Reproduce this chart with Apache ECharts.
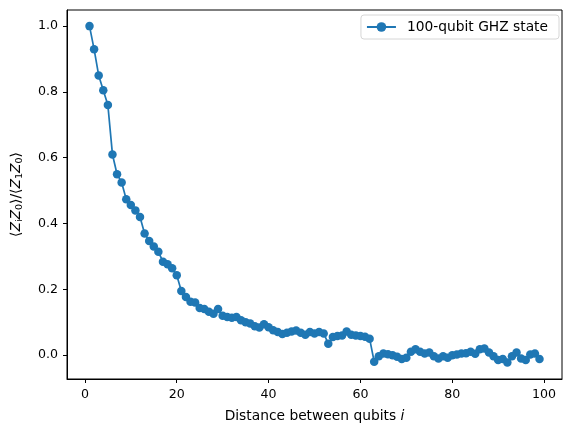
<!DOCTYPE html>
<html>
<head>
<meta charset="utf-8">
<script src="https://cdn.jsdelivr.net/npm/echarts@6/dist/echarts.min.js"></script>
<style>
html,body{margin:0;padding:0;background:#fff;}
#chart{width:570px;height:436px;}
</style>
</head>
<body>
<div id="chart"></div>
<script>
const distances = [1,2,3,4,5,6,7,8,9,10,11,12,13,14,15,16,17,18,19,20,
21,22,23,24,25,26,27,28,29,30,31,32,33,34,35,36,37,38,39,40,
41,42,43,44,45,46,47,48,49,50,51,52,53,54,55,56,57,58,59,60,
61,62,63,64,65,66,67,68,69,70,71,72,73,74,75,76,77,78,79,80,
81,82,83,84,85,86,87,88,89,90,91,92,93,94,95,96,97,98,99];
const correlations = [1.0,0.93,0.85,0.805,0.76,0.61,0.55,0.525,0.474,0.456,
0.44,0.42,0.37,0.347,0.33,0.314,0.284,0.276,0.264,0.243,
0.195,0.177,0.162,0.16,0.143,0.14,0.132,0.126,0.14,0.12,
0.116,0.114,0.116,0.106,0.1,0.096,0.088,0.084,0.094,0.085,
0.076,0.07,0.064,0.068,0.072,0.075,0.068,0.062,0.07,0.066,
0.07,0.066,0.035,0.055,0.058,0.06,0.072,0.062,0.06,0.058,
0.056,0.05,-0.02,-0.003,0.005,0.003,0.0,-0.005,-0.012,-0.008,
0.01,0.018,0.01,0.005,0.008,-0.003,-0.01,-0.003,-0.008,0.0,
0.002,0.005,0.006,0.01,0.004,0.018,0.02,0.008,-0.003,-0.015,
-0.012,-0.022,-0.003,0.008,-0.01,-0.015,0.002,0.005,-0.012];
const xTicks = [0,20,40,60,80,100];
const yTicks = [0.0,0.2,0.4,0.6,0.8,1.0];
const seriesName = '100-qubit GHZ state';

const chart = echarts.init(document.getElementById('chart'), null, {renderer:'canvas'});
const font = 'DejaVu Sans';
const axisCommon = {
  axisLine:{show:true,onZero:false,lineStyle:{color:'#000',width:1}},
  splitLine:{show:false},
};
chart.setOption({
  animation:false,
  backgroundColor:'#fff',
  textStyle:{fontFamily:font},
  grid:{left:65,right:8,top:10,bottom:57,containLabel:false,show:true,borderColor:'#000',borderWidth:1},
  legend:{
    data:[seriesName],
    right:11,top:15,
    orient:'vertical',
    padding:[5,11,5,5],
    itemWidth:29,itemHeight:12,itemGap:0,
    borderColor:'#d6d6d6',borderWidth:1,borderRadius:3,
    backgroundColor:'#fff',
    textStyle:{fontFamily:font,fontSize:13.8,color:'#000',padding:[0,0,0,6]}
  },
  xAxis:Object.assign({
    type:'value',min:-3.9,max:103.9,
    name:'Distance between qubits {i|i}',
    nameLocation:'middle',nameGap:30,
    nameTextStyle:{fontFamily:font,fontSize:13.8,color:'#000',rich:{i:{fontStyle:'italic',fontFamily:font,fontSize:13.8}}},
    axisLabel:{customValues:xTicks,color:'#000',fontSize:12.6,fontFamily:font,margin:9},
    axisTick:{show:true,length:4,customValues:xTicks,lineStyle:{color:'#000'}}
  }, axisCommon),
  yAxis:Object.assign({
    type:'value',min:-0.0725,max:1.049,
    name:'⟨{i|Z}{s|i}{i|Z}{s|0}⟩/⟨{i|Z}{s|1}{i|Z}{s|0}⟩',
    nameLocation:'middle',nameGap:42,nameRotate:90,
    nameTextStyle:{fontFamily:font,fontSize:13.8,color:'#000',lineHeight:17,
      rich:{
        i:{fontStyle:'italic',fontFamily:font,fontSize:13.8,lineHeight:17,verticalAlign:'middle'},
        s:{fontFamily:font,fontSize:9.5,lineHeight:17,verticalAlign:'bottom'}
      }},
    axisLabel:{customValues:yTicks,color:'#000',fontSize:12.6,fontFamily:font,margin:9,formatter:v=>v.toFixed(1)},
    axisTick:{show:true,length:4,customValues:yTicks,lineStyle:{color:'#000'}}
  }, axisCommon),
  series:[{
    name:seriesName,
    type:'line',
    data:distances.map((d,i)=>[d,correlations[i]]),
    color:'#1f77b4',
    symbol:'circle',symbolSize:8.5,
    lineStyle:{width:1.7,color:'#1f77b4'},
    itemStyle:{color:'#1f77b4'},
    clip:false
  }]
});
</script>
</body>
</html>
